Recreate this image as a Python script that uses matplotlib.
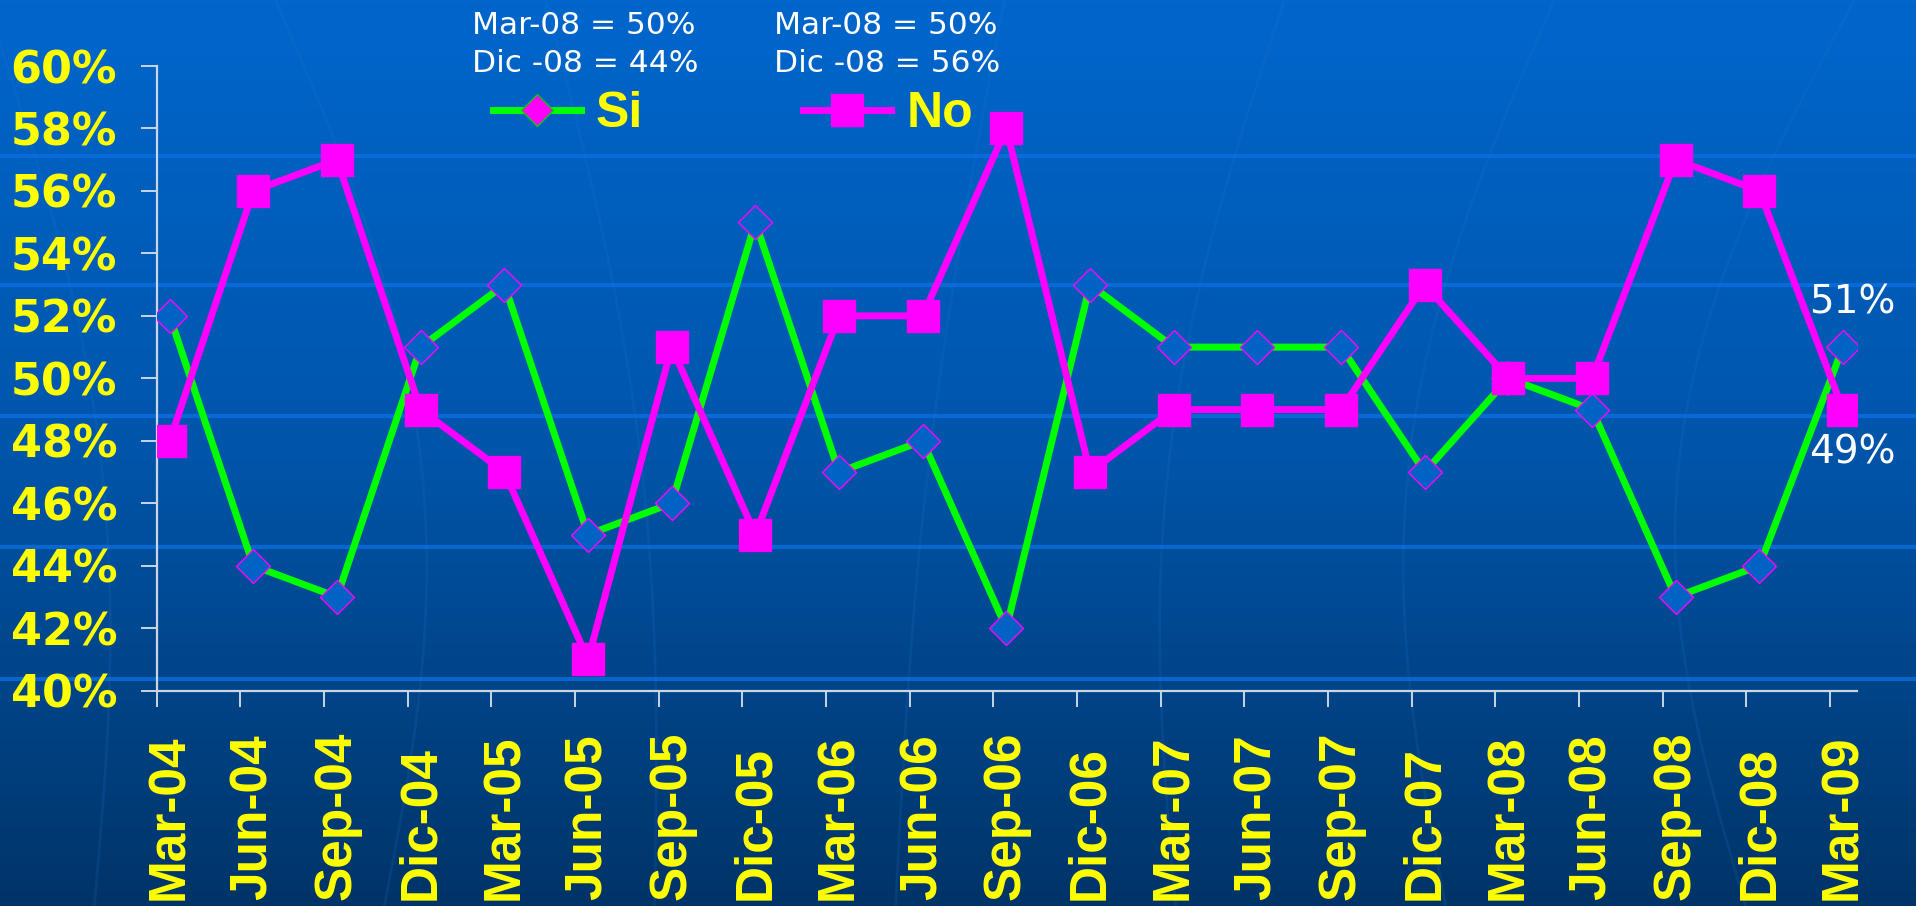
import numpy as np
import matplotlib
matplotlib.use("Agg")
import matplotlib.pyplot as plt
from matplotlib.lines import Line2D
from matplotlib.colors import LinearSegmentedColormap

# Data
periods = ['Mar-04', 'Jun-04', 'Sep-04', 'Dic-04', 'Mar-05', 'Jun-05', 'Sep-05',
           'Dic-05', 'Mar-06', 'Jun-06', 'Sep-06', 'Dic-06', 'Mar-07', 'Jun-07',
           'Sep-07', 'Dic-07', 'Mar-08', 'Jun-08', 'Sep-08', 'Dic-08', 'Mar-09']
si = [52, 44, 43, 51, 53, 45, 46, 55, 47, 48, 42, 53, 51, 51, 51, 47, 50, 49, 43, 44, 51]
no = [48, 56, 57, 49, 47, 41, 51, 45, 52, 52, 58, 47, 49, 49, 49, 53, 50, 50, 57, 56, 49]
y_ticks = [40, 42, 44, 46, 48, 50, 52, 54, 56, 58, 60]
note_si = ['Mar-08 = 50%', 'Dic -08 = 44%']
note_no = ['Mar-08 = 50%', 'Dic -08 = 56%']

W, H = 1916, 906
fig = plt.figure(figsize=(W / 100, H / 100), dpi=100)

# background: vertical blue gradient with lighter horizontal bands
bg = fig.add_axes([0, 0, 1, 1], zorder=0)
cmap = LinearSegmentedColormap.from_list('bg', ['#0066cc', '#0055aa', '#003468'])
grad = np.linspace(0, 1, 256).reshape(-1, 1)
bg.imshow(grad, aspect='auto', cmap=cmap, extent=[0, W, H, 0])
for yb in [156, 285, 416, 547, 679]:
    bg.axhline(yb, color='#0a6ee0', lw=3, alpha=0.8)
# faint globe meridians
t = np.linspace(0, H, 200)
for x0, bend in [(40, 60), (330, 90), (600, 40), (950, -20), (1230, -60), (1500, -90), (1800, -120)]:
    bg.plot(x0 + bend * np.sin(np.pi * t / H) + 0.12 * (t - H / 2) * np.sign(bend), t,
            color='#2a7ad8', lw=2, alpha=0.15)
bg.set_xlim(0, W)
bg.set_ylim(H, 0)
bg.axis('off')

# main axes
ax = fig.add_axes([156.7 / W, 1 - 690.7 / H, (1857 - 156.7) / W, (690.7 - 66) / H], zorder=1)
ax.patch.set_alpha(0)
x = np.arange(len(periods))

ax.plot(x, si, color='#00ff00', lw=5, marker='D', ms=17,
        markerfacecolor='#0062c4', markeredgecolor='#ff00ff', markeredgewidth=1, zorder=3)
ax.plot(x, no, color='#ff00ff', lw=5, marker='s', ms=23,
        markerfacecolor='#ff00ff', markeredgecolor='#ff00ff', zorder=4)

ax.set_xlim(-0.155, 20.167)
ax.set_ylim(40, 60)

axis_col = '#c9d6e6'
for side in ['top', 'right']:
    ax.spines[side].set_visible(False)
for side in ['left', 'bottom']:
    ax.spines[side].set_color(axis_col)
    ax.spines[side].set_linewidth(1.6)

ax.set_yticks(y_ticks)
ax.set_yticklabels([f'{v}%' for v in y_ticks])
ax.tick_params(axis='y', direction='out', length=11.5, width=1.4, color=axis_col,
               pad=17, labelcolor='#ffff00', labelsize=32)
for lab in ax.get_yticklabels():
    lab.set_fontweight('heavy')
    lab.set_fontfamily('DejaVu Sans')

ax.set_xticks(x)
ax.set_xticks(x - 0.155, minor=True)
ax.set_xticklabels(periods, rotation=90, va='bottom', ha='center')
ax.tick_params(axis='x', which='major', length=0, pad=151, labelcolor='#ffff00', labelsize=37)
ax.tick_params(axis='x', which='minor', direction='out', length=11.5, width=1.4, color=axis_col)
for lab in ax.get_xticklabels():
    lab.set_fontweight('bold')
    lab.set_fontfamily('Liberation Sans')

# end labels
ax.annotate(f'{si[-1]}%', xy=(x[-1], si[-1]), xytext=(7, 32), textcoords='offset points',
            ha='center', va='center', color='white', fontsize=28, fontfamily='DejaVu Sans')
ax.annotate(f'{no[-1]}%', xy=(x[-1], no[-1]), xytext=(7, -31), textcoords='offset points',
            ha='center', va='center', color='white', fontsize=28, fontfamily='DejaVu Sans')

# legend
h_si = Line2D([], [], color='#00ff00', lw=5, marker='D', ms=16,
              markerfacecolor='#ff00ff', markeredgecolor='#00cc00', markeredgewidth=1)
h_no = Line2D([], [], color='#ff00ff', lw=5, marker='s', ms=23,
              markerfacecolor='#ff00ff', markeredgecolor='#ff00ff')
leg = fig.legend([h_si, h_no], ['Si', 'No'], ncol=2, frameon=False,
                 loc='center left', bbox_to_anchor=(493 / W, 1 - 114 / H),
                 borderpad=0, borderaxespad=0, handlelength=1.75, handletextpad=0.31,
                 columnspacing=3.2, prop={'family': 'Liberation Sans', 'weight': 'bold', 'size': 36})
for txt in leg.get_texts():
    txt.set_color('#ffff00')

# notes above legend
for i, (a, b) in enumerate(zip(note_si, note_no)):
    yy = 1 - (25 + 39 * i) / H
    fig.text(472 / W, yy, a, color='white', fontsize=22.5, ha='left', va='center',
             fontfamily='DejaVu Sans')
    fig.text(774 / W, yy, b, color='white', fontsize=22.5, ha='left', va='center',
             fontfamily='DejaVu Sans')

fig.savefig('out.png', dpi=100)
